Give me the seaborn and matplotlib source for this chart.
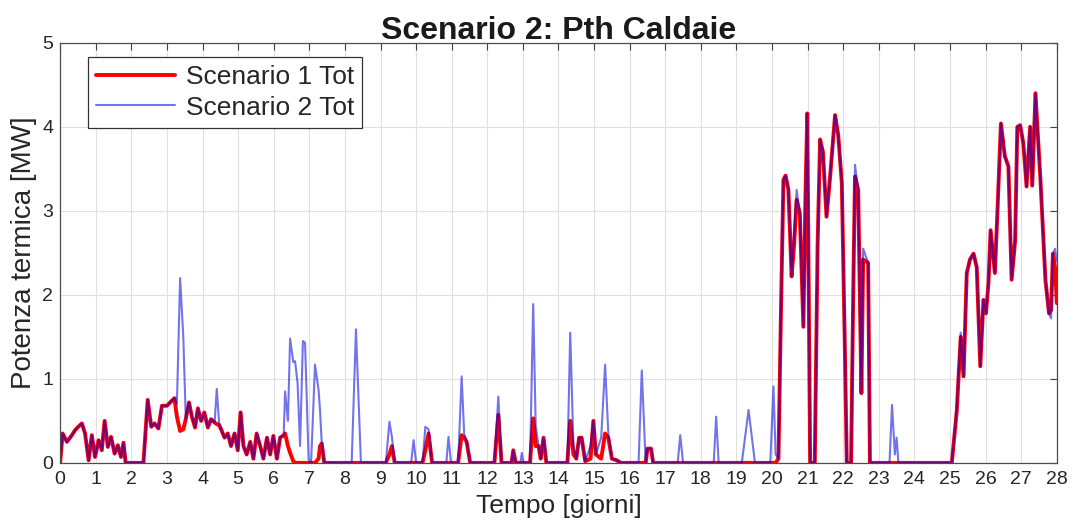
"""
Scenario 2: Pth Caldaie - confronto potenza termica caldaie (Scenario 1 vs Scenario 2)
"""

import numpy as np
import pandas as pd
import matplotlib
matplotlib.use("Agg")
import matplotlib.pyplot as plt
import seaborn as sns

# -----------------------------
# Dati
# -----------------------------
giorni = [
    # 0 - 2.4
    0.00, 0.07, 0.19, 0.33, 0.42, 0.51, 0.61, 0.70, 0.80, 0.89, 0.98, 1.08,
    1.17, 1.25, 1.34, 1.43, 1.53, 1.62, 1.71, 1.78, 1.84, 2.34,
    # 2.4 - 6.3
    2.46, 2.56, 2.65, 2.76, 2.86, 3.00, 3.09, 3.21, 3.28, 3.37, 3.46, 3.53,
    3.62, 3.70, 3.79, 3.87, 3.96, 4.05, 4.15, 4.24, 4.34, 4.40, 4.47,
    4.52, 4.62, 4.71, 4.80, 4.90, 4.99, 5.07, 5.15, 5.24, 5.34, 5.43, 5.52,
    5.62, 5.71, 5.81, 5.90, 5.99, 6.09, 6.18, 6.28,
    # 6.3 - 7.5
    6.32, 6.40, 6.46, 6.55, 6.60, 6.67, 6.74, 6.82, 6.88, 6.98, 7.05, 7.16,
    7.26, 7.30, 7.35, 7.42,
    # 8 - 13
    8.19, 8.31, 8.45, 9.15, 9.25, 9.32, 9.40, 9.86, 9.93, 10.00,
    10.18, 10.26, 10.35, 10.45, 10.85, 10.91, 10.98,
    11.18, 11.28, 11.35, 11.42, 11.52, 12.20, 12.31, 12.40,
    12.68, 12.73, 12.80, 12.93, 12.97, 13.02,
    # 13 - 16
    13.20, 13.29, 13.36, 13.44, 13.50, 13.58, 13.66,
    14.25, 14.33, 14.42, 14.50, 14.58, 14.65, 14.75, 14.90, 14.98, 15.05,
    15.20, 15.31, 15.40, 15.50, 15.64, 15.75,
    # 16 - 20.2
    16.25, 16.34, 16.45, 16.50, 16.60, 16.66, 17.35, 17.42, 17.50,
    18.36, 18.43, 18.50, 19.15, 19.21, 19.34, 19.52, 19.95, 20.04, 20.10, 20.18,
    # 20.2 - 22.8
    20.25, 20.32, 20.38, 20.46, 20.50, 20.55, 20.62, 20.69, 20.78, 20.88,
    20.94, 20.99, 21.03, 21.07, 21.20, 21.28, 21.35, 21.43, 21.53, 21.63,
    21.77, 21.86, 21.96, 22.04, 22.10, 22.22, 22.28, 22.33, 22.42, 22.51,
    22.56, 22.70, 22.75,
    # 23 - 25
    23.30, 23.37, 23.45, 23.50, 23.55, 25.05,
    # 25 - 28
    25.19, 25.30, 25.38, 25.47, 25.56, 25.66, 25.75, 25.85, 25.94, 26.01,
    26.08, 26.14, 26.26, 26.33, 26.43, 26.54, 26.64, 26.73, 26.83, 26.89,
    26.97, 27.06, 27.15, 27.25, 27.31, 27.40, 27.54, 27.68, 27.78, 27.84,
    27.89, 27.95, 28.00,
]

scenario1 = [
    0.00, 0.35, 0.25, 0.33, 0.39, 0.43, 0.47, 0.35, 0.03, 0.33, 0.07, 0.27,
    0.15, 0.50, 0.19, 0.31, 0.11, 0.21, 0.07, 0.24, 0.00, 0.00,
    0.75, 0.43, 0.47, 0.41, 0.68, 0.68, 0.72, 0.77, 0.55, 0.38, 0.40, 0.52,
    0.72, 0.55, 0.42, 0.65, 0.50, 0.60, 0.42, 0.52, 0.48, 0.46, 0.45,
    0.40, 0.30, 0.35, 0.20, 0.35, 0.15, 0.60, 0.20, 0.10, 0.25, 0.05, 0.35,
    0.20, 0.05, 0.30, 0.10, 0.32, 0.05, 0.30, 0.33,
    0.35, 0.20, 0.12, 0.02, 0.00, 0.00, 0.00, 0.00, 0.00, 0.00, 0.00, 0.00,
    0.05, 0.20, 0.23, 0.00,
    0.00, 0.00, 0.00, 0.00, 0.10, 0.20, 0.00, 0.00, 0.00, 0.00,
    0.00, 0.15, 0.35, 0.00, 0.00, 0.00, 0.00,
    0.00, 0.33, 0.30, 0.25, 0.00, 0.00, 0.57, 0.00,
    0.00, 0.15, 0.00, 0.00, 0.00, 0.00,
    0.00, 0.53, 0.20, 0.20, 0.05, 0.30, 0.00,
    0.00, 0.50, 0.10, 0.05, 0.30, 0.30, 0.02, 0.05, 0.50, 0.10,
    0.05, 0.35, 0.30, 0.05, 0.03, 0.00,
    0.00, 0.00, 0.00, 0.17, 0.17, 0.00, 0.00, 0.00, 0.00,
    0.00, 0.00, 0.00, 0.00, 0.00, 0.00, 0.00, 0.00, 0.00, 0.00, 0.05,
    1.80, 3.37, 3.42, 3.25, 2.80, 2.22, 2.60, 3.13, 2.97, 1.62,
    3.20, 4.16, 2.00, 0.00, 0.00, 2.60, 3.85, 3.70, 2.93, 3.40,
    4.14, 3.90, 3.33, 1.50, 0.00, 0.00, 2.00, 3.41, 3.25, 0.83,
    2.42, 2.38, 0.00,
    0.00, 0.00, 0.00, 0.00, 0.00, 0.00,
    0.62, 1.50, 1.03, 2.26, 2.42, 2.49, 2.33, 1.15, 1.94, 1.78,
    2.14, 2.77, 2.26, 2.97, 4.04, 3.65, 3.53, 2.18, 2.65, 4.00,
    4.02, 3.80, 3.29, 4.00, 3.30, 4.40, 3.37, 2.18, 1.78, 1.82,
    2.49, 2.33, 1.90,
]

scenario2 = [
    0.00, 0.35, 0.25, 0.33, 0.39, 0.43, 0.47, 0.35, 0.03, 0.33, 0.07, 0.27,
    0.15, 0.50, 0.19, 0.31, 0.11, 0.21, 0.07, 0.24, 0.00, 0.00,
    0.75, 0.43, 0.47, 0.41, 0.68, 0.68, 0.72, 0.77, 0.70, 2.20, 1.50, 0.52,
    0.72, 0.55, 0.42, 0.65, 0.50, 0.60, 0.42, 0.52, 0.48, 0.88, 0.45,
    0.40, 0.30, 0.35, 0.20, 0.35, 0.15, 0.60, 0.20, 0.10, 0.25, 0.05, 0.35,
    0.20, 0.05, 0.30, 0.10, 0.32, 0.05, 0.30, 0.33,
    0.85, 0.50, 1.48, 1.20, 1.21, 0.95, 0.20, 1.45, 1.43, 0.04, 0.00, 1.17,
    0.87, 0.63, 0.23, 0.00,
    0.00, 1.59, 0.00, 0.00, 0.49, 0.31, 0.00, 0.00, 0.27, 0.00,
    0.00, 0.43, 0.40, 0.00, 0.00, 0.31, 0.00,
    0.00, 1.03, 0.35, 0.25, 0.00, 0.00, 0.79, 0.00,
    0.00, 0.15, 0.00, 0.00, 0.12, 0.00,
    0.00, 1.89, 0.45, 0.20, 0.05, 0.30, 0.00,
    0.00, 1.55, 0.20, 0.05, 0.30, 0.30, 0.02, 0.20, 0.50, 0.10,
    0.30, 1.17, 0.35, 0.05, 0.03, 0.00,
    0.00, 1.10, 0.00, 0.17, 0.17, 0.00, 0.00, 0.33, 0.00,
    0.00, 0.55, 0.00, 0.00, 0.20, 0.63, 0.00, 0.00, 0.91, 0.10, 0.05,
    1.80, 3.37, 3.42, 3.25, 2.80, 2.22, 2.70, 3.25, 2.97, 1.62,
    3.20, 4.16, 2.00, 0.00, 0.00, 2.60, 3.85, 3.70, 2.93, 3.40,
    4.14, 3.90, 3.33, 1.50, 0.00, 0.00, 2.00, 3.55, 3.25, 0.83,
    2.55, 2.38, 0.00,
    0.00, 0.69, 0.10, 0.30, 0.00, 0.00,
    0.65, 1.55, 1.03, 2.26, 2.42, 2.49, 2.33, 1.15, 1.94, 1.78,
    2.14, 2.77, 2.26, 2.97, 4.04, 3.65, 3.53, 2.18, 2.65, 4.00,
    4.02, 3.80, 3.29, 4.00, 3.30, 4.40, 3.37, 2.18, 1.78, 1.72,
    2.49, 2.55, 2.40,
]

x_ticks = list(range(0, 29))
y_ticks = [0, 1, 2, 3, 4, 5]

# -----------------------------
# Stile
# -----------------------------
sns.set_theme(style="whitegrid")
plt.rcParams["font.family"] = ["Liberation Sans", "DejaVu Sans"]

df = pd.DataFrame({"giorni": giorni, "s1": scenario1, "s2": scenario2})

fig = plt.figure(figsize=(10.74, 5.29), dpi=100)
ax = fig.add_axes([0.056, 0.125, 0.928, 0.794])

sns.lineplot(data=df, x="giorni", y="s1", ax=ax, color="#ff0000",
             linewidth=2.8, sort=False, estimator=None, label="Scenario 1 Tot")
sns.lineplot(data=df, x="giorni", y="s2", ax=ax, color="#0000dd",
             linewidth=1.5, alpha=0.55, sort=False, estimator=None,
             label="Scenario 2 Tot")

ax.set_xlim(0, 28)
ax.set_ylim(0, 5)
ax.set_xticks(x_ticks)
ax.set_yticks(y_ticks)
ax.tick_params(direction="in", length=5, width=0.8, colors="0.25",
               labelsize=14, top=True, right=True)
ax.tick_params(axis="x", pad=6)
ax.tick_params(axis="y", pad=5)
ax.tick_params(axis="both", labelcolor="0.15")
ax.grid(True, color="0.88", linewidth=0.8)
for sp in ax.spines.values():
    sp.set_color("0.3")
    sp.set_linewidth(0.9)

ax.set_xlabel("Tempo [giorni]", fontsize=19, color="0.15", labelpad=4)
ax.set_ylabel("Potenza termica [MW]", fontsize=20, color="0.15", labelpad=4)
ax.set_title("Scenario 2: Pth Caldaie", fontsize=23, fontweight="bold",
             color="0.1", pad=3)

leg = ax.legend(loc="upper left", bbox_to_anchor=(0.028, 0.966), fontsize=19,
                frameon=True, fancybox=False, handlelength=3.0,
                borderpad=0.3, labelspacing=0.25, handletextpad=0.4,
                borderaxespad=0)
leg.get_frame().set_edgecolor("0.2")
leg.get_frame().set_linewidth(0.9)
leg.get_frame().set_alpha(1.0)

fig.savefig("out.png", dpi=100)
